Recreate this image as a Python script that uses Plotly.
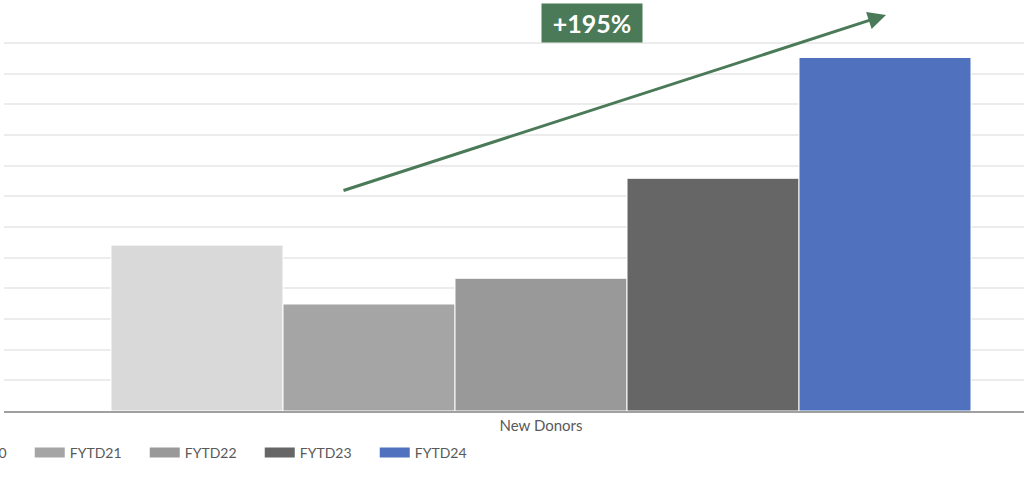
import plotly.graph_objects as go

categories = ["New Donors"]
series_names = ["FYTD20", "FYTD21", "FYTD22", "FYTD23", "FYTD24"]
series_values = [541, 349, 433, 759, 1153]
series_colors = ["#d9d9d9", "#a5a5a5", "#999999", "#666666", "#5071be"]
change_label = "+195%"

fig = go.Figure()
for name, val, col in zip(series_names, series_values, series_colors):
    fig.add_trace(go.Bar(
        x=categories, y=[val], name=name, showlegend=False, legendgroup=name,
        marker=dict(color=col, line=dict(color="#ffffff", width=1)),
    ))
# legend swatches (wide rectangles like the original)
for name, col in zip(series_names, series_colors):
    fig.add_trace(go.Scatter(
        x=[None], y=[None], mode="lines", name=name, legendgroup=name,
        line=dict(color=col, width=15), hoverinfo="skip",
    ))

W, H = 1024, 487
ml, mr, mt, mb = 4, 0, 40, 76
pw, ph = W - ml - mr, H - mt - mb

def px_to_paper(x, y):
    return (x - ml) / pw, (H - mb - y) / ph

hx, hy = px_to_paper(886, 15)
bx, by = px_to_paper(591.5, 23)

fig.update_layout(
    width=W, height=H,
    margin=dict(l=ml, r=mr, t=mt, b=mb, pad=0, autoexpand=False),
    paper_bgcolor="white", plot_bgcolor="white",
    barmode="group", bargap=0.14, bargroupgap=0,
    font=dict(family="Lato", color="#595959", size=14),
    showlegend=True,
    legend=dict(orientation="h", x=-0.0875, y=-0.07, xanchor="left", yanchor="top",
                font=dict(family="Lato", size=14, color="#595959"),
                itemwidth=30, entrywidth=70, traceorder="normal",
                itemclick=False, itemdoubleclick=False),
    xaxis=dict(range=[-0.537, 0.483], showgrid=False, showline=True,
               linecolor="#a0a0a0", linewidth=2, ticks="",
               tickfont=dict(family="Lato", size=15, color="#595959")),
    yaxis=dict(range=[0, 1210], dtick=100, showgrid=True, gridcolor="#ececec",
               gridwidth=1.5, showticklabels=False, zeroline=False, ticks=""),
    annotations=[
        dict(xref="paper", yref="paper", x=hx, y=hy, ax=-544, ay=176,
             axref="pixel", ayref="pixel", text="", showarrow=True,
             arrowhead=2, arrowsize=1.2, arrowwidth=3, arrowcolor="#4a7a57"),
        dict(xref="paper", yref="paper", x=bx, y=by, text="<b>" + change_label + "</b>",
             showarrow=False, bgcolor="#4a7a57", font=dict(family="Lato", size=25, color="white"),
             width=94, height=32, borderpad=3, xanchor="center", yanchor="middle"),
    ],
)

fig.write_html("out.html", config={"displayModeBar": False},
               post_script="document.body.style.margin='0';")
